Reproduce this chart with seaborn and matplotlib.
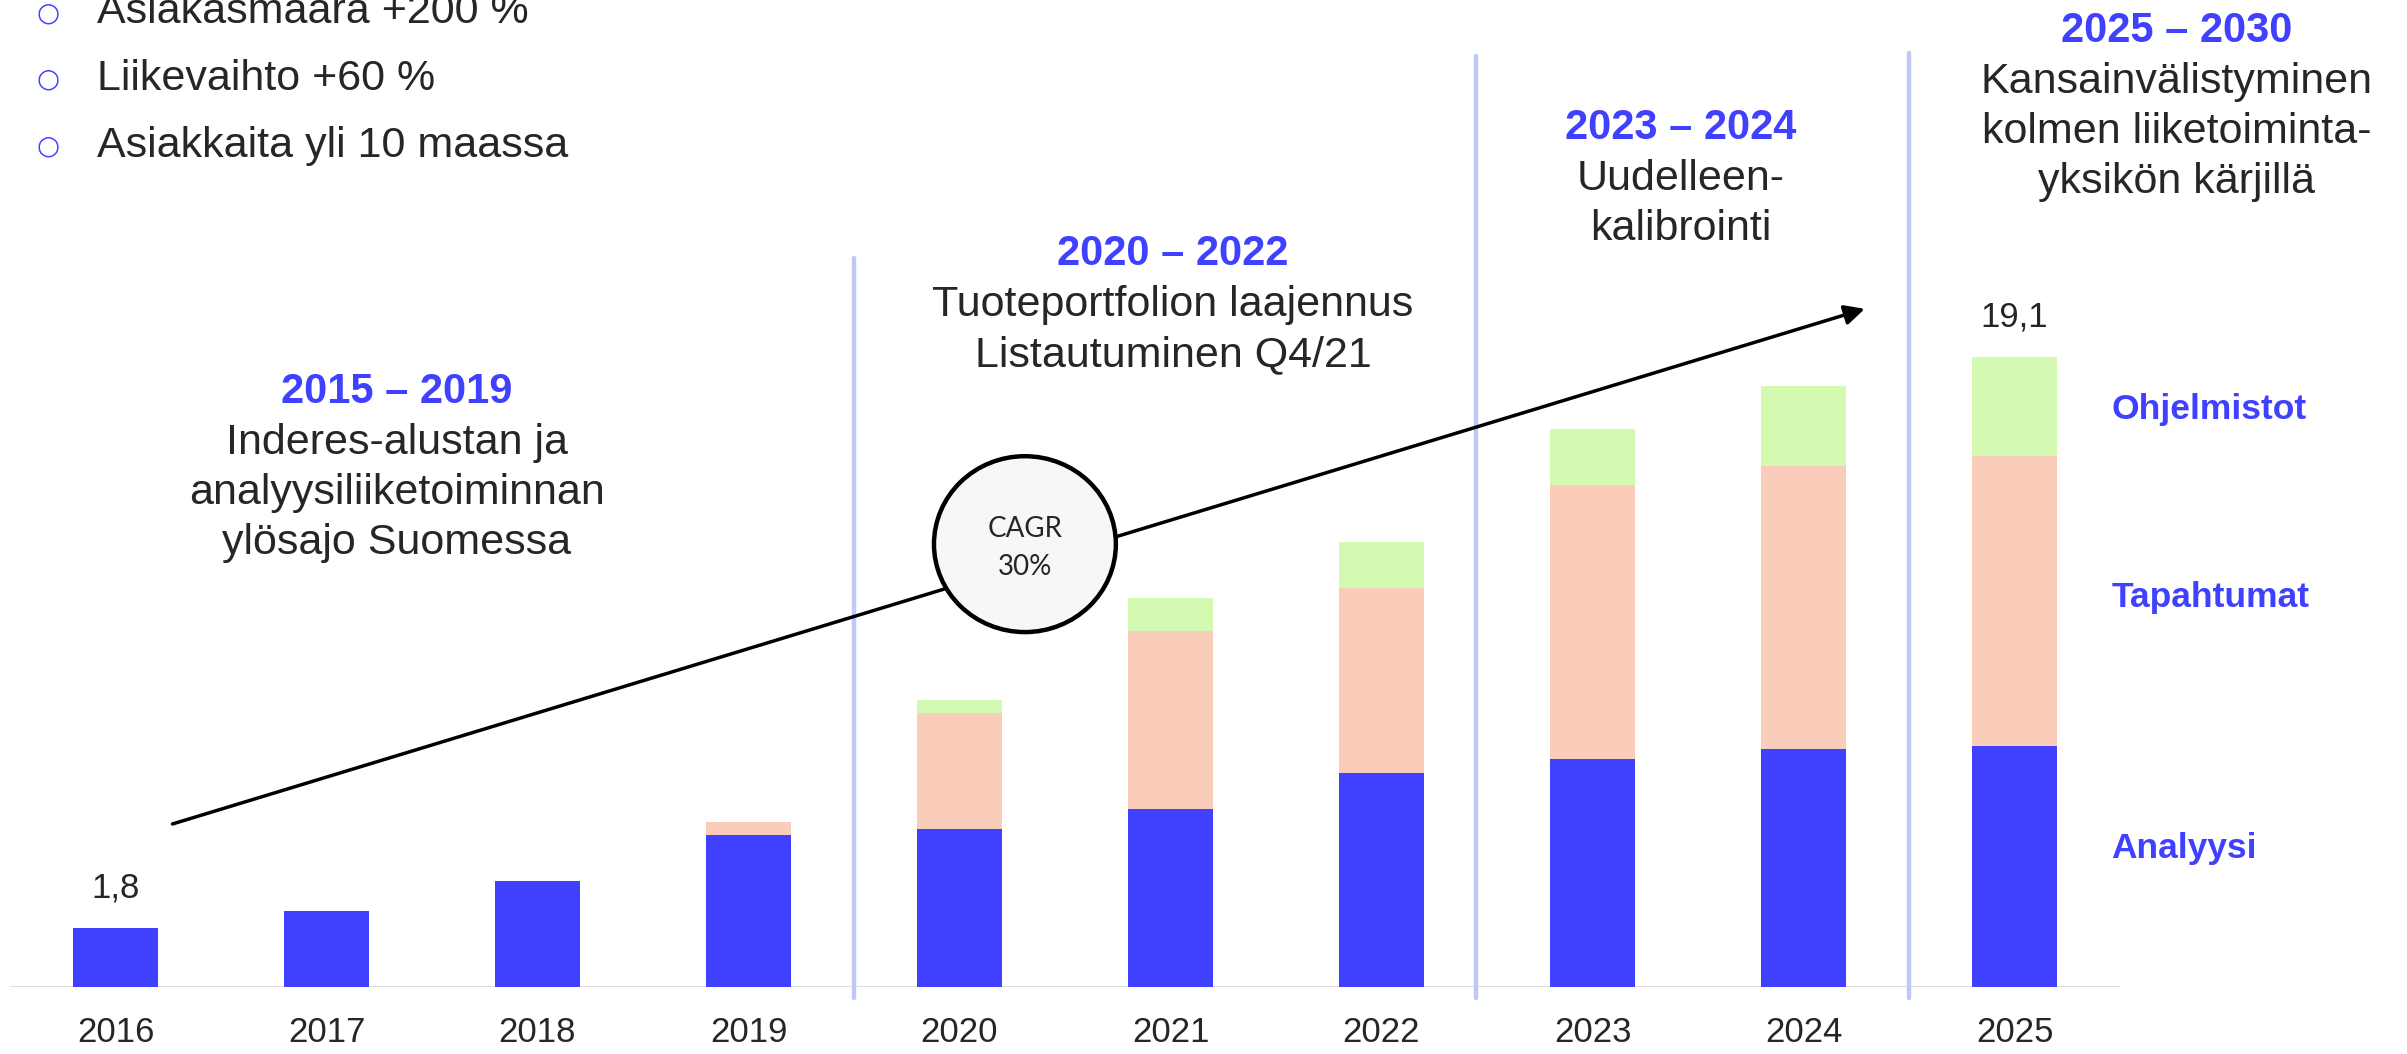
import matplotlib
matplotlib.use("Agg")
import matplotlib.pyplot as plt
from matplotlib.patches import Ellipse
import seaborn as sns

# Style first, fonts after (set_style resets font.family)
sns.set_style("white")
plt.rcParams["font.family"] = ["Liberation Sans", "DejaVu Sans"]

# --- data (MEUR, stacked by business unit) ---
years = ["2016", "2017", "2018", "2019", "2020", "2021", "2022", "2023", "2024", "2025"]
analyysi = [1.8, 2.3, 3.2, 4.6, 4.8, 5.4, 6.5, 6.9, 7.2, 7.3]
tapahtumat = [0.0, 0.0, 0.0, 0.4, 3.5, 5.4, 5.6, 8.3, 8.6, 8.8]
ohjelmistot = [0.0, 0.0, 0.0, 0.0, 0.4, 1.0, 1.4, 1.7, 2.4, 3.0]
value_labels = {"2016": "1,8", "2025": "19,1"}

segment_names = ["Analyysi", "Tapahtumat", "Ohjelmistot"]
segment_label_y = [4.2, 11.8, 17.5]

bullets = ["Asiakasmäärä +200 %", "Liikevaihto +60 %", "Asiakkaita yli 10 maassa"]

phase_titles = ["2015 – 2019", "2020 – 2022", "2023 – 2024", "2025 – 2030"]
phase_texts = [
    ["Inderes-alustan ja", "analyysiliiketoiminnan", "ylösajo Suomessa"],
    ["Tuoteportfolion laajennus", "Listautuminen Q4/21"],
    ["Uudelleen-", "kalibrointi"],
    ["Kansainvälistyminen", "kolmen liiketoiminta-", "yksikön kärjillä"],
]
cagr_text = "CAGR\n30%"

# --- colours ---
BLUE = "#4040ff"
PEACH = "#facdbb"
GREEN = "#d3fab0"
DIVIDER = "#bec8fb"

W, H = 2407, 1054
fig = plt.figure(figsize=(W / 100, H / 100), dpi=100)
ax = fig.add_axes([10 / W, (H - 987) / H, 2110 / W, 987 / H])

low_mid = [a + t for a, t in zip(analyysi, tapahtumat)]
totals = [a + t + o for a, t, o in zip(analyysi, tapahtumat, ohjelmistot)]

# stacked bars: draw totals first, then cover with lower segments
for vals, col in [(totals, GREEN), (low_mid, PEACH), (analyysi, BLUE)]:
    sns.barplot(x=years, y=vals, color=col, width=0.4, saturation=1,
                linewidth=0, ax=ax, zorder=2)

ax.set_xlim(-0.5, 9.5)
ax.set_ylim(0, 987 / 33)
sns.despine(ax=ax, left=True, bottom=True)
ax.set_yticks([])
ax.set_xlabel("")
ax.set_ylabel("")
ax.set_xticks(range(len(years)))
ax.set_xticklabels(years, fontsize=25)
ax.tick_params(axis="x", length=0, pad=21)
ax.axhline(0, color="#dcdcdc", lw=2, zorder=1)

# phase dividers
for xd, ytop in [(3.5, 22.1), (6.45, 28.2), (8.5, 28.3)]:
    ax.plot([xd, xd], [-0.33, ytop], color=DIVIDER, lw=3.2, clip_on=False, zorder=1)

# value labels above first and last bar
for yr, lab in value_labels.items():
    i = years.index(yr)
    ax.annotate(lab, (i, totals[i]), xytext=(0, 22), textcoords="offset points",
                ha="center", va="baseline", fontsize=25)

# segment names to the right of the last bar
for name, yl in zip(segment_names, segment_label_y):
    ax.text(9.46, yl, name, color=BLUE, fontweight="bold", fontsize=25.5,
            ha="left", va="center", clip_on=False)

# growth arrow + CAGR bubble
ax.annotate("", xy=(8.29, 20.55), xytext=(0.27, 4.94),
            arrowprops=dict(arrowstyle="-|>", color="black", lw=2.5,
                            mutation_scale=30, shrinkA=0, shrinkB=0), zorder=4)
ax.add_patch(Ellipse((4.31, 13.42), width=0.862, height=5.33, facecolor="#f7f7f7",
                     edgecolor="black", lw=3.2, zorder=5))
ax.text(4.31, 13.3, cagr_text, ha="center", va="center", fontsize=20,
        family=["Lato", "DejaVu Sans"], linespacing=1.55, zorder=6)


def fx(px):
    return px / W


def fy(py):
    return 1 - py / H


# phase headers, one text per line so baselines land where they should
phase_x = [397, 1173, 1681, 2177]
phase_title_y = [403, 265, 139, 42]
for title, lines, px, py in zip(phase_titles, phase_texts, phase_x, phase_title_y):
    fig.text(fx(px), fy(py), title, color=BLUE, fontweight="bold", fontsize=30,
             ha="center", va="baseline")
    for k, line in enumerate(lines):
        fig.text(fx(px), fy(py + 51 + 50 * k), line, fontsize=31,
                 ha="center", va="baseline")

# bullet list, top left
for k, line in enumerate(bullets):
    base = 23 + k * 67
    fig.text(fx(48), fy(base - 10), "○", color=BLUE, fontsize=19,
             family=["DejaVu Sans"], ha="center", va="center")
    fig.text(fx(97), fy(base), line, fontsize=31, ha="left", va="baseline")

fig.savefig("out.png", dpi=100)
